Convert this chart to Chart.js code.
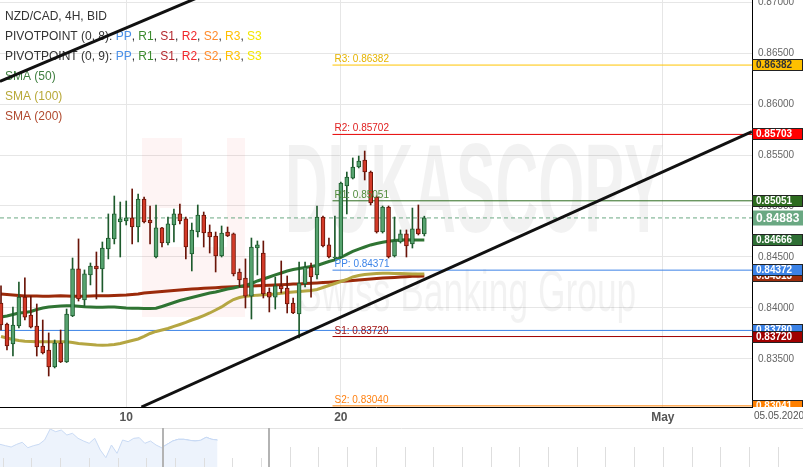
<!DOCTYPE html>
<html>
<head>
<meta charset="utf-8">
<script src="https://cdn.jsdelivr.net/npm/chart.js@4.4.1/dist/chart.umd.min.js"></script>
<style>
  html, body { margin: 0; padding: 0; background: #fff; }
  #wrap { position: relative; width: 803px; height: 467px; overflow: hidden; }
  #main { position: absolute; left: 0; top: 0; }
  #nav  { position: absolute; left: 0; top: 428px; }
</style>
</head>
<body>
<div id="wrap">
  <canvas id="main" width="803" height="428"></canvas>
  <canvas id="nav" width="803" height="39"></canvas>
</div>
<script>
// === 1) Data NZD/CAD 4H (dibaca dari gambar) ===
const opens  = [0.84049,0.83843,0.83647,0.83823,0.84107,0.83931,0.83823,0.83627,0.83588,0.83421,
                0.83657,0.83470,0.83921,0.84383,0.84078,0.84324,0.84412,0.84383,0.84578,0.84677,
                0.84843,0.84853,0.84883,0.84794,0.85069,0.84863,0.84500,0.84785,0.84637,0.84814,
                0.84922,0.84873,0.84530,0.84745,0.84912,0.84745,0.84706,0.84510,0.84745,0.84726,
                0.84353,0.84294,0.84117,0.84588,0.84539,0.84157,0.84107,0.84216,0.84196,0.84049,
                0.83941,0.84235,0.84402,0.84324,0.84892,0.84618,0.84490,0.84500,0.85196,0.85274,
                0.85382,0.85451,0.85333,0.85088,0.84745,0.84990,0.84510,0.84647,0.84726,0.84628,
                0.84775,0.84726];
const highs  = [0.84216,0.83853,0.84009,0.84255,0.84295,0.84117,0.84039,0.83882,0.83755,0.83686,
                0.83784,0.83990,0.84490,0.84677,0.84373,0.84441,0.84549,0.84647,0.84922,0.85098,
                0.85039,0.85049,0.85167,0.85118,0.85088,0.85000,0.85010,0.84790,0.84892,0.84971,
                0.85020,0.84892,0.84833,0.85010,0.84941,0.84814,0.84745,0.84804,0.84794,0.84735,
                0.84383,0.84481,0.84686,0.84657,0.84657,0.84196,0.84304,0.84461,0.84314,0.84098,
                0.84451,0.84451,0.84441,0.85000,0.84902,0.84686,0.84902,0.85235,0.85333,0.85471,
                0.85490,0.85539,0.85343,0.85098,0.85000,0.85000,0.84892,0.84765,0.84765,0.84980,
                0.85010,0.84900];
const lows   = [0.83784,0.83588,0.83529,0.83804,0.83882,0.83804,0.83529,0.83549,0.83333,0.83412,
                0.83465,0.83465,0.83915,0.84068,0.84019,0.84226,0.84088,0.84157,0.84481,0.84628,
                0.84500,0.84814,0.84628,0.84647,0.84833,0.84628,0.84490,0.84598,0.84618,0.84647,
                0.84824,0.84481,0.84363,0.84696,0.84598,0.84539,0.84353,0.84500,0.84700,0.84314,
                0.84206,0.84000,0.83892,0.84324,0.84098,0.83961,0.83990,0.84147,0.83951,0.83945,
                0.83706,0.84206,0.84107,0.84284,0.84598,0.84490,0.84471,0.84495,0.84922,0.85265,
                0.85373,0.85255,0.85010,0.84735,0.84735,0.84490,0.84500,0.84637,0.84500,0.84588,
                0.84716,0.84706];
const closes = [0.83833,0.83627,0.83833,0.84107,0.83911,0.83813,0.83617,0.83559,0.83421,0.83657,
                0.83470,0.83941,0.84383,0.84088,0.84334,0.84412,0.84383,0.84588,0.84686,0.84922,
                0.84873,0.84883,0.84794,0.85069,0.84843,0.84833,0.84785,0.84637,0.84824,0.84922,
                0.84853,0.84598,0.84765,0.84912,0.84735,0.84696,0.84510,0.84735,0.84706,0.84334,
                0.84275,0.84117,0.84598,0.84618,0.84137,0.84107,0.84216,0.84186,0.84039,0.83951,
                0.84245,0.84402,0.84304,0.84892,0.84608,0.84500,0.84500,0.85225,0.85284,0.85382,
                0.85441,0.85333,0.85029,0.84745,0.84990,0.84500,0.84657,0.84726,0.84608,0.84775,
                0.84726,0.84883];

const sma50  = [0.83912,0.83922,0.83936,0.83951,0.83956,0.83966,0.83985,0.84000,0.84010,0.84015,
                0.84020,0.84023,0.84023,0.84018,0.84013,0.84010,0.84007,0.84007,0.84010,0.84010,
                0.84005,0.84000,0.83998,0.83997,0.83996,0.83996,0.83997,0.84015,0.84034,0.84054,
                0.84073,0.84088,0.84103,0.84118,0.84132,0.84147,0.84157,0.84172,0.84186,0.84196,
                0.84211,0.84221,0.84240,0.84265,0.84284,0.84304,0.84324,0.84343,0.84363,0.84378,
                0.84387,0.84397,0.84407,0.84417,0.84436,0.84456,0.84471,0.84495,0.84525,0.84554,
                0.84578,0.84598,0.84618,0.84632,0.84644,0.84654,0.84662,0.84667,0.84668,0.84667,
                0.84666,0.84666];
const sma100 = [0.83721,0.83706,0.83691,0.83681,0.83674,0.83671,0.83669,0.83669,0.83669,0.83669,
                0.83669,0.83668,0.83662,0.83652,0.83647,0.83642,0.83637,0.83634,0.83637,0.83642,
                0.83652,0.83667,0.83681,0.83696,0.83721,0.83750,0.83770,0.83784,0.83799,0.83819,
                0.83838,0.83858,0.83882,0.83902,0.83926,0.83951,0.83980,0.84010,0.84049,0.84083,
                0.84103,0.84115,0.84121,0.84126,0.84129,0.84132,0.84137,0.84144,0.84152,0.84157,
                0.84162,0.84167,0.84171,0.84181,0.84201,0.84220,0.84240,0.84260,0.84279,0.84304,
                0.84319,0.84328,0.84333,0.84337,0.84340,0.84340,0.84338,0.84337,0.84335,0.84333,
                0.84333,0.84333];
const sma200 = [0.84137,0.84132,0.84127,0.84122,0.84118,0.84118,0.84118,0.84116,0.84115,0.84117,
                0.84119,0.84118,0.84116,0.84115,0.84116,0.84118,0.84119,0.84120,0.84120,0.84122,
                0.84124,0.84127,0.84132,0.84137,0.84147,0.84152,0.84157,0.84162,0.84167,0.84171,
                0.84176,0.84181,0.84186,0.84189,0.84193,0.84196,0.84199,0.84203,0.84206,0.84208,
                0.84211,0.84213,0.84216,0.84219,0.84221,0.84224,0.84226,0.84229,0.84231,0.84234,
                0.84236,0.84239,0.84242,0.84246,0.84250,0.84253,0.84257,0.84261,0.84265,0.84270,
                0.84275,0.84280,0.84285,0.84289,0.84294,0.84297,0.84300,0.84304,0.84307,0.84310,
                0.84312,0.84314];

// pivot point (0, 9) + PP dari set sebelumnya
const pivotNames  = ['R3', 'R2', 'R1', 'PP', 'S1', 'S2'];
const pivotValues = [0.86382, 0.85702, 0.85051, 0.84371, 0.83720, 0.83040];
const pivotStart  = 55.6;           // index candle awal pivot baru
const prevPivotPP = 0.83780;
const lastPrice   = 0.84883;

// garis tren (index candle, harga)
const trendUpper = [{ x: -0.17, y: 0.86221 }, { x: 36, y: 0.87118 }];
const trendLower = [{ x: 23.55, y: 0.83029 }, { x: 125.96, y: 0.85729 }];

// label harga di sumbu kanan (urutan gambar: yang terakhir di atas)
const tagValues = [0.83780, 0.84313, 0.84372, 0.83720, 0.83041, 0.86382, 0.85703, 0.85051, 0.84666, 0.84883];

// sumbu
const xMin = -0.17, xMax = 125.96;
const yMin = 0.83029, yMax = 0.87020;
const xTickIdx    = [21, 57, 111];
const xTickLabels = ['10', '20', 'May'];
const yTicks      = [0.835, 0.840, 0.845, 0.850, 0.855, 0.860, 0.865, 0.870];
const lastDate    = '05.05.2020';

// navigator (riwayat lebih panjang)
const navValues = [0.8357,0.8317,0.8279,0.8357,0.8415,0.8259,0.8317,0.8357,0.8482,0.8801,
                   0.8723,0.8772,0.8627,0.8676,0.8531,0.8453,0.8386,0.8531,0.8192,0.7969,
                   0.8337,0.8096,0.8482,0.8433,0.8531,0.8549,0.8386,0.8453,0.8337,0.8259,
                   0.8357,0.8453,0.8502,0.8502,0.8473,0.8453,0.8473,0.8560,0.8502,0.8482];
const navWindow = [29.25, 48.3];
const navXMax = 144.1, navYMin = 0.7699, navYMax = 0.883;

// === 2) Style ===
const FONT = '"Liberation Sans", Arial, sans-serif';
const UP_FILL = '#56a36f', UP_LINE = '#1d5a2c';
const DN_FILL = '#d33a28', DN_LINE = '#6a1408';
const pivotLineColors = ['#ffc400', '#e60000', '#2d6b1f', '#3b82e6', '#a00000', '#ff8000'];
const pivotTextColors = ['#e6b400', '#e02020', '#4f8a3a', '#3d85e8', '#a01010', '#ff8010'];
const tagStyles = [
  { bg: '#3b82e6', fg: '#fff' }, { bg: '#9c2c0c', fg: '#fff' }, { bg: '#3b82e6', fg: '#fff' },
  { bg: '#a00000', fg: '#fff' }, { bg: '#ff8000', fg: '#fff' }, { bg: '#ffc000', fg: '#333' },
  { bg: '#ff0000', fg: '#fff' }, { bg: '#2d6b1f', fg: '#fff' }, { bg: '#2f6f35', fg: '#fff' },
  { bg: '#6aa882', fg: '#fff', big: true }
];
const C = { pp:'#4a8fe7', r1:'#3b8a2e', s1:'#b3282d', r2:'#f0262a', s2:'#ff8a2a', r3:'#ffbf00', s3:'#f2e600', txt:'#333' };
const pivotRow = (title) => [[title, C.txt], ['PP', C.pp], [', ', C.txt], ['R1', C.r1], [', ', C.txt], ['S1', C.s1],
  [', ', C.txt], ['R2', C.r2], [', ', C.txt], ['S2', C.s2], [', ', C.txt], ['R3', C.r3], [', ', C.txt], ['S3', C.s3]];
const legendRows = [
  [['NZD/CAD, 4H, BID', C.txt]],
  pivotRow('PIVOTPOINT (0, 8): '),
  pivotRow('PIVOTPOINT (0, 9): '),
  [['SMA (50)', '#3f7f3f']],
  [['SMA (100)', '#b8a838']],
  [['SMA (200)', '#b04a2e']]
];

// === 3) Plugin: watermark, legend, label ===
const overlay = {
  id: 'overlay',
  beforeDatasetsDraw(chart) {
    const { ctx, chartArea: a } = chart;
    ctx.save();
    ctx.beginPath(); ctx.rect(a.left, a.top, a.width, a.height); ctx.clip();
    // watermark logo
    ctx.fillStyle = 'rgba(230,60,60,0.06)';
    ctx.fillRect(142, 138, 40, 70);
    ctx.fillRect(142, 208, 18, 39);
    ctx.fillRect(142, 247, 103, 70);
    ctx.fillRect(227, 138, 18, 109);
    ctx.fillStyle = 'rgba(0,0,0,0.05)';
    ctx.save(); ctx.translate(285, 232); ctx.scale(0.47, 1);
    ctx.font = 'bold 126px ' + FONT; ctx.fillText('DUKASCOPY', 0, 0); ctx.restore();
    ctx.save(); ctx.translate(298, 311); ctx.scale(0.61, 1);
    ctx.font = '58px ' + FONT; ctx.fillText('Swiss Banking Group', 0, 0); ctx.restore();
    // legend kiri atas
    ctx.font = '12px ' + FONT;
    ctx.textBaseline = 'alphabetic';
    legendRows.forEach((row, r) => {
      let x = 5;
      row.forEach(([t, col]) => { ctx.fillStyle = col; ctx.fillText(t, x, 20 + r * 20); x += ctx.measureText(t).width; });
    });
    ctx.restore();
  },
  afterDatasetsDraw(chart) {
    const { ctx, chartArea: a, scales: { x, y } } = chart;
    ctx.save();
    // label pivot
    ctx.font = '10px ' + FONT;
    ctx.textBaseline = 'alphabetic';
    pivotValues.forEach((v, i) => {
      ctx.fillStyle = pivotTextColors[i];
      ctx.fillText(pivotNames[i] + ': ' + v.toFixed(5), x.getPixelForValue(pivotStart) + 2, y.getPixelForValue(v) - 3);
    });
    // tick sumbu kanan
    ctx.beginPath(); ctx.rect(a.right, 0, chart.width - a.right, a.bottom); ctx.clip();
    ctx.fillStyle = '#666';
    ctx.textBaseline = 'middle';
    yTicks.forEach(v => ctx.fillText(v.toFixed(5), a.right + 6, y.getPixelForValue(v)));
    // kotak harga
    tagValues.forEach((v, i) => {
      const st = tagStyles[i];
      const py = Math.round(y.getPixelForValue(v));
      const h = st.big ? 15 : 12;
      ctx.fillStyle = st.bg;
      ctx.fillRect(a.right + 1, py - h / 2, 50, h);
      if (!st.big) { ctx.strokeStyle = '#222'; ctx.lineWidth = 1; ctx.strokeRect(a.right + 0.5, py - h / 2 + 0.5, 50, h - 1); }
      ctx.fillStyle = st.fg;
      ctx.font = (st.big ? 'bold 12px ' : 'bold 10px ') + FONT;
      ctx.fillText(v.toFixed(5), a.right + 4, py + 0.5);
    });
    ctx.restore();
    // tanggal terakhir
    ctx.save();
    ctx.font = '10px ' + FONT; ctx.fillStyle = '#555'; ctx.textBaseline = 'middle';
    ctx.fillText(lastDate, a.right + 2, a.bottom + 9);
    ctx.restore();
  }
};

// === 4) Chart utama ===
const pts = arr => arr.map((v, i) => ({ x: i, y: v }));
const hline = (v, from) => [{ x: from, y: v }, { x: xMax, y: v }];
const lineDs = (data, color, width, order, extra = {}) => Object.assign(
  { type: 'line', data, borderColor: color, borderWidth: width, pointRadius: 0, fill: false, order, clip: 0, tension: 0 }, extra);
const isUp = i => closes[i] >= opens[i];

const datasets = [
  lineDs(trendUpper, '#111', 3, 0),
  lineDs(trendLower, '#111', 3, 0),
  {
    type: 'bar', order: 1, grouped: false, barThickness: 4, borderWidth: 1, borderSkipped: false,
    data: opens.map((o, i) => ({ x: i, y: [o, closes[i]] })),
    backgroundColor: c => isUp(c.dataIndex) ? UP_FILL : DN_FILL,
    borderColor: c => isUp(c.dataIndex) ? UP_LINE : DN_LINE
  },
  {
    type: 'bar', order: 2, grouped: false, barThickness: 1, borderWidth: 0,
    data: lows.map((l, i) => ({ x: i, y: [l, highs[i]] })),
    backgroundColor: c => isUp(c.dataIndex) ? UP_LINE : DN_LINE
  },
  lineDs(pts(sma50), '#2f7433', 3, 3),
  lineDs(pts(sma100), '#b5a642', 3, 3),
  lineDs(pts(sma200), '#9b2a0a', 3, 3),
  ...pivotValues.map((v, i) => lineDs(hline(v, pivotStart), pivotLineColors[i], 1, 4)),
  lineDs(hline(prevPivotPP, xMin), '#3b82e6', 1, 4),
  lineDs(hline(lastPrice, xMin), '#6aa882', 1, 5, { borderDash: [4, 3] })
];

new Chart(document.getElementById('main'), {
  type: 'bar',
  data: { datasets },
  options: {
    responsive: false,
    animation: false,
    layout: { padding: 0 },
    plugins: { legend: { display: false }, tooltip: { enabled: false } },
    scales: {
      x: {
        type: 'linear', min: xMin, max: xMax, offset: false,
        grid: { color: '#e6e6e6', drawTicks: false, offset: false },
        border: { display: true, color: '#000', width: 1 },
        afterBuildTicks: s => { s.ticks = xTickIdx.map(v => ({ value: v })); },
        afterFit: s => { s.height = 21; },
        ticks: {
          callback: (v, i) => xTickLabels[i], autoSkip: false, maxRotation: 0, padding: 3,
          color: '#555', font: { family: FONT, size: 12, weight: 'bold' }
        }
      },
      y: {
        position: 'right', min: yMin, max: yMax,
        grid: { color: '#e6e6e6', drawTicks: false },
        border: { display: true, color: '#000', width: 1 },
        afterBuildTicks: s => { s.ticks = yTicks.map(v => ({ value: v })); },
        afterFit: s => { s.width = 51; },
        ticks: { display: false }
      }
    }
  },
  plugins: [overlay]
});

// === 5) Navigator ===
const navDecor = {
  id: 'navDecor',
  afterDatasetsDraw(chart) {
    const { ctx, scales: { x } } = chart;
    const h = chart.height, w = chart.width;
    const right = x.getPixelForValue(navWindow[1]);
    ctx.save();
    ctx.strokeStyle = '#e3e3e3'; ctx.lineWidth = 1;
    ctx.beginPath(); ctx.moveTo(0, 0.5); ctx.lineTo(w, 0.5); ctx.stroke();
    ctx.strokeStyle = '#dedede';
    for (let v = 0.5; v < navXMax; v += 5.15) {
      const px = Math.round(x.getPixelForValue(v)) + 0.5;
      ctx.beginPath(); ctx.moveTo(px, px > right ? 19 : 30); ctx.lineTo(px, h); ctx.stroke();
    }
    ctx.strokeStyle = '#b3b3b3'; ctx.lineWidth = 2;
    navWindow.forEach(v => {
      const px = Math.round(x.getPixelForValue(v));
      ctx.beginPath(); ctx.moveTo(px, 0); ctx.lineTo(px, h); ctx.stroke();
    });
    ctx.restore();
  }
};

new Chart(document.getElementById('nav'), {
  type: 'line',
  data: {
    datasets: [
      { data: pts(navValues), borderColor: '#c9daf4', backgroundColor: '#edf3fc', fill: 'start', borderWidth: 1, pointRadius: 0 },
      { data: pts(navValues).filter(p => p.x >= 29), borderColor: '#a6c3ee', backgroundColor: '#dce7fa', fill: 'start', borderWidth: 1, pointRadius: 0 }
    ]
  },
  options: {
    responsive: false,
    animation: false,
    layout: { padding: 0 },
    plugins: { legend: { display: false }, tooltip: { enabled: false } },
    scales: {
      x: { type: 'linear', display: false, min: 0, max: navXMax },
      y: { display: false, min: navYMin, max: navYMax }
    }
  },
  plugins: [navDecor]
});
</script>
</body>
</html>
